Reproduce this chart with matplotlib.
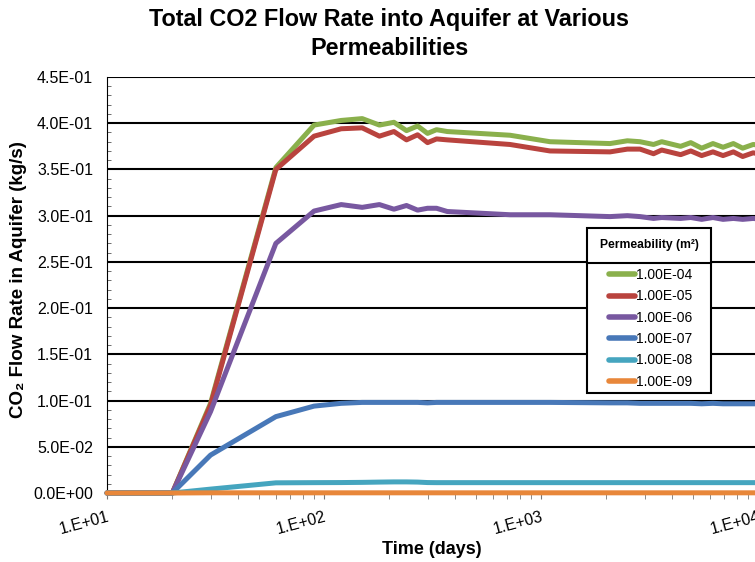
import matplotlib
matplotlib.use("Agg")
import matplotlib.pyplot as plt
import numpy as np
from matplotlib.lines import Line2D
from matplotlib.patches import Rectangle
from matplotlib.ticker import FuncFormatter, LogLocator, MultipleLocator, NullFormatter

plt.rcParams["font.family"] = ["Liberation Sans", "DejaVu Sans"]

# time steps (days), shared by every run
time_days = [10, 20, 30, 60, 90, 120, 150, 180, 210, 240, 270, 300, 330, 370, 720,
             1100, 2080, 2500, 2860, 3300, 3600, 4400, 4900, 5500, 6200, 6900,
             7700, 8500, 9500, 10500]

# total CO2 flow rate into the aquifer (kg/s), one run per permeability
rate_k1e04 = [0, 0, 0.097, 0.352, 0.398, 0.403, 0.405, 0.398, 0.401, 0.392, 0.397,
              0.389, 0.393, 0.391, 0.387, 0.380, 0.378, 0.381, 0.380, 0.377, 0.380,
              0.375, 0.379, 0.373, 0.378, 0.374, 0.378, 0.373, 0.377, 0.376]
rate_k1e05 = [0, 0, 0.095, 0.350, 0.386, 0.394, 0.395, 0.386, 0.391, 0.382, 0.3875,
              0.379, 0.383, 0.382, 0.377, 0.370, 0.369, 0.372, 0.372, 0.367, 0.371,
              0.366, 0.370, 0.365, 0.369, 0.365, 0.369, 0.364, 0.368, 0.366]
rate_k1e06 = [0, 0, 0.088, 0.270, 0.305, 0.312, 0.309, 0.312, 0.307, 0.311, 0.306,
              0.308, 0.308, 0.3045, 0.301, 0.301, 0.299, 0.300, 0.299, 0.297, 0.298,
              0.297, 0.298, 0.296, 0.298, 0.296, 0.297, 0.296, 0.297, 0.296]
rate_k1e07 = [0, 0, 0.041, 0.0826, 0.094, 0.097, 0.098, 0.098, 0.098, 0.098, 0.098,
              0.0975, 0.098, 0.098, 0.098, 0.098, 0.0975, 0.0975, 0.097, 0.097, 0.097,
              0.097, 0.097, 0.0965, 0.097, 0.0965, 0.0965, 0.0965, 0.0965, 0.0965]
rate_k1e08 = [0, 0, 0.0042, 0.011, 0.0112, 0.0113, 0.0115, 0.0118, 0.012, 0.012, 0.0118,
              0.0113, 0.0112, 0.0112, 0.0112, 0.0112, 0.0112, 0.0112, 0.0112, 0.0112,
              0.0112, 0.0112, 0.0112, 0.0112, 0.0112, 0.0112, 0.0112, 0.0112, 0.0112, 0.0112]
rate_k1e09 = [0, 0, 0.0002, 0.0002, 0.0002, 0.0002, 0.0002, 0.0002, 0.0002, 0.0002,
              0.0002, 0.0002, 0.0002, 0.0002, 0.0002, 0.0002, 0.0002, 0.0002, 0.0002,
              0.0002, 0.0002, 0.0002, 0.0002, 0.0002, 0.0002, 0.0002, 0.0002, 0.0002,
              0.0002, 0.0002]

series_labels = ["1.00E-04", "1.00E-05", "1.00E-06", "1.00E-07", "1.00E-08", "1.00E-09"]
series_rates = [rate_k1e04, rate_k1e05, rate_k1e06, rate_k1e07, rate_k1e08, rate_k1e09]
series_colors = ["#8AB04C", "#B9433E", "#7858A0", "#4878B8", "#45A5BF", "#E8873A"]

W, H = 755, 562
fig = plt.figure(figsize=(W / 100, H / 100), dpi=100)
# plot area runs from x=10 to x=1e4; the right end sits just past the figure edge
ax = fig.add_axes([107 / W, 1 - 493 / H, (758 - 107) / W, (493 - 77) / H])

for rate, label, color in zip(series_rates, series_labels, series_colors):
    ax.plot(time_days, rate, color=color, lw=3.6, label=label, zorder=3,
            solid_capstyle="round", solid_joinstyle="round", clip_on=False)

ax.set_xscale("log")
ax.set_xlim(10, 1e4)
ax.set_ylim(0, 0.45)

ax.yaxis.set_major_locator(MultipleLocator(0.05))
ax.yaxis.set_minor_locator(MultipleLocator(0.01))
ax.yaxis.set_major_formatter(FuncFormatter(lambda v, p: f"{v:.1E}"))
ax.xaxis.set_major_locator(LogLocator(base=10))
ax.xaxis.set_minor_locator(LogLocator(base=10, subs=np.arange(2, 10)))
ax.xaxis.set_minor_formatter(NullFormatter())
ax.xaxis.set_major_formatter(FuncFormatter(lambda v, p: f"1.E+{int(round(np.log10(v))):02d}"))

ax.yaxis.grid(True, which="major", color="black", lw=1.5)
ax.set_axisbelow(True)
for side in ["top", "right"]:
    ax.spines[side].set_visible(False)
ax.spines["left"].set_color("black")
ax.spines["bottom"].set_color("#555555")

ax.tick_params(axis="y", which="major", direction="in", length=0, labelsize=11.5, pad=10)
ax.tick_params(axis="y", which="minor", direction="in", length=3, color="#555555")
ax.tick_params(axis="x", which="both", direction="out", length=4, color="#777777")
ax.tick_params(axis="x", which="major", labelsize=11.5, pad=8)
for lbl in ax.get_xticklabels():
    lbl.set_rotation(15)
    lbl.set_ha("right")
    lbl.set_rotation_mode("anchor")

fig.text(389 / W, 1 - 34 / H, "Total CO2 Flow Rate into Aquifer at Various\nPermeabilities",
         ha="center", va="center", fontsize=16.8, fontweight="bold", linespacing=1.3)
fig.text(432 / W, 1 - 550 / H, "Time (days)", ha="center", va="center",
         fontsize=13, fontweight="bold")
fig.text(19 / W, 1 - 280 / H, "CO\u2082 Flow Rate in Aquifer (kg/s)", ha="center", va="center",
         rotation=90, fontsize=13.5, fontweight="bold")

# legend box: bordered header cell with the title, entries underneath
box_l, box_t, box_r, box_b, sep = 587, 228, 711, 393, 263
fig.add_artist(Rectangle((box_l / W, 1 - box_b / H), (box_r - box_l) / W, (box_b - box_t) / H,
                         transform=fig.transFigure, facecolor="white", edgecolor="black",
                         lw=1.5, zorder=9))
fig.add_artist(Line2D([box_l / W, box_r / W], [1 - sep / H, 1 - sep / H],
                      transform=fig.transFigure, color="black", lw=1.5, zorder=10))
fig.text((box_l + box_r) / 2 / W, 1 - 245 / H, "Permeability (m\u00b2)", ha="center", va="center",
         fontsize=8.7, fontweight="bold", zorder=11)

handles, labels = ax.get_legend_handles_labels()
leg = fig.legend(handles, labels, loc="upper left", bbox_to_anchor=(607 / W, 1 - 265 / H),
                 bbox_transform=fig.transFigure, borderaxespad=0, borderpad=0, fontsize=10,
                 handlelength=1.9, handletextpad=0.05, labelspacing=0.53, frameon=False)
leg.set_zorder(11)
for h in leg.get_lines():
    h.set_linewidth(4)
    h.set_solid_capstyle("round")

# shift the entries so the first one sits right under the header cell
fig.canvas.draw()
renderer = fig.canvas.get_renderer()
first = leg.get_texts()[0].get_window_extent(renderer)
handle = leg.get_lines()[0].get_window_extent(renderer)
dy = (H - 275) - (first.y0 + first.y1) / 2
dx = 609 - handle.x0
leg.set_bbox_to_anchor(((607 + dx) / W, 1 - (265 - dy) / H), transform=fig.transFigure)

fig.savefig("out.png", dpi=100)
